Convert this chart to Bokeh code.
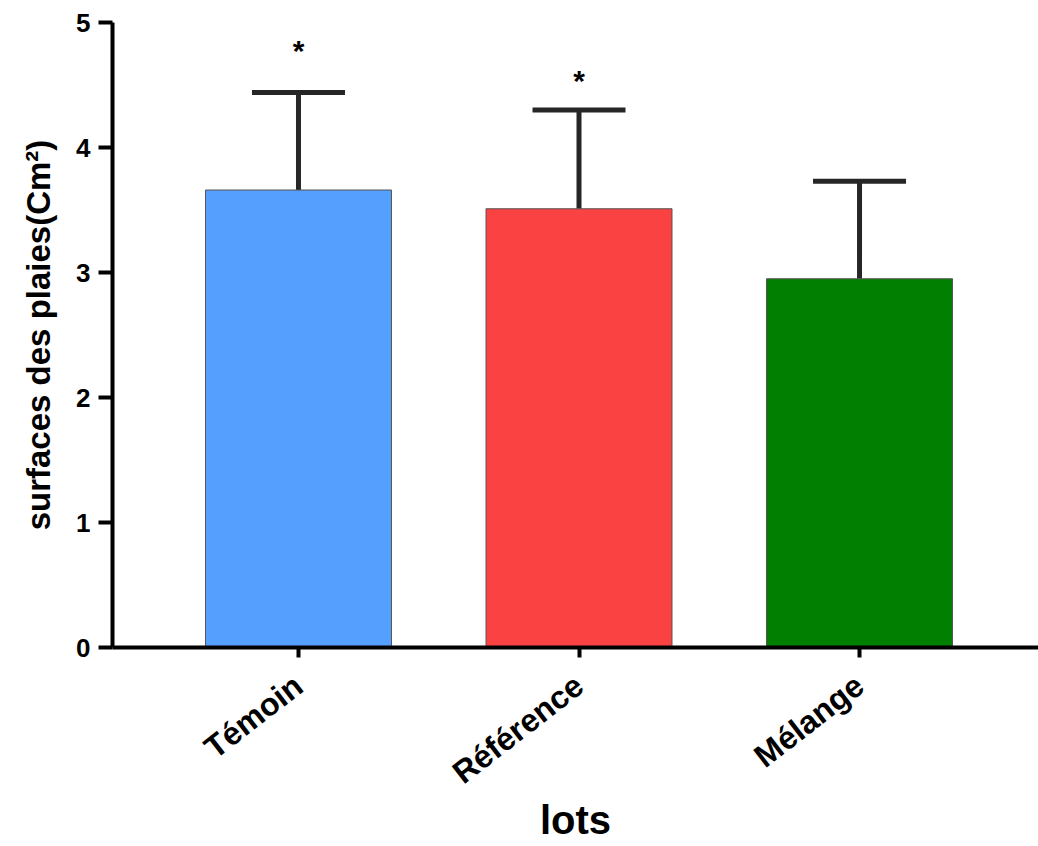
import math
from bokeh.plotting import figure
from bokeh.models import ColumnDataSource, Range1d, FixedTicker, Whisker, TeeHead
from bokeh.core.properties import value
from bokeh.embed import file_html
from bokeh.resources import INLINE

categories = ["Témoin", "Référence", "Mélange"]
means = [3.66, 3.51, 2.95]
upper = [4.44, 4.30, 3.73]
colors = ["#559FFF", "#FA4242", "#007F00"]
star_labels = ["*", "*", ""]
star_y = [4.78, 4.54, 3.99]

xs = list(range(len(categories)))
src = ColumnDataSource(dict(x=xs, top=means, upper=upper, color=colors,
                            star=star_labels, star_y=star_y))

FONT = "Liberation Sans"

p = figure(frame_width=926, frame_height=625, output_backend="svg",
           toolbar_location=None, x_range=Range1d(-0.663, 2.638),
           y_range=Range1d(0, 5), min_border_left=112, min_border_top=22,
           min_border_right=0, min_border_bottom=10)
p.outline_line_color = None
p.grid.visible = False
p.background_fill_color = "white"

p.vbar(x="x", top="top", bottom=0, width=0.663, fill_color="color",
       line_color="#555555", line_width=1, source=src)

w = Whisker(source=src, base="x", upper="upper", lower="top",
            upper_head=TeeHead(size=93, line_width=5, line_color="#262626"),
            lower_head=None, line_width=5, line_color="#262626")
p.add_layout(w)

p.text(x="x", y="star_y", text="star", source=src, text_align="center",
       text_baseline="middle", text_font=value(FONT), text_font_size="30px",
       text_font_style="bold", text_color="black")

# y axis
ya = p.yaxis[0]
ya.ticker = FixedTicker(ticks=[0, 1, 2, 3, 4, 5])
ya.minor_tick_line_color = None
ya.axis_line_width = 4
ya.major_tick_line_width = 4
ya.major_tick_out = 14
ya.major_tick_in = 0
ya.major_label_standoff = 8
ya.major_label_text_font = FONT
ya.major_label_text_font_style = "bold"
ya.major_label_text_font_size = "26px"
ya.major_label_text_color = "black"
ya.axis_label = "surfaces des plaies(Cm²)"
ya.axis_label_text_font = FONT
ya.axis_label_text_font_style = "bold"
ya.axis_label_text_font_size = "33px"
ya.axis_label_text_color = "black"
ya.axis_label_standoff = 16

# x axis
xa = p.xaxis[0]
xa.ticker = FixedTicker(ticks=xs)
xa.major_label_overrides = {i: c for i, c in zip(xs, categories)}
xa.minor_tick_line_color = None
xa.axis_line_width = 4
xa.major_tick_line_width = 4
xa.major_tick_out = 10
xa.major_tick_in = 0
xa.major_label_orientation = 0.66
xa.major_label_standoff = 24
xa.major_label_text_font = FONT
xa.major_label_text_font_style = "bold"
xa.major_label_text_font_size = "32px"
xa.major_label_text_color = "black"
xa.axis_label = "lots"
xa.axis_label_text_font = FONT
xa.axis_label_text_font_style = "bold"
xa.axis_label_text_font_size = "40px"
xa.axis_label_text_color = "black"
xa.axis_label_standoff = -10

open("out.html", "w").write(file_html(p, INLINE))
